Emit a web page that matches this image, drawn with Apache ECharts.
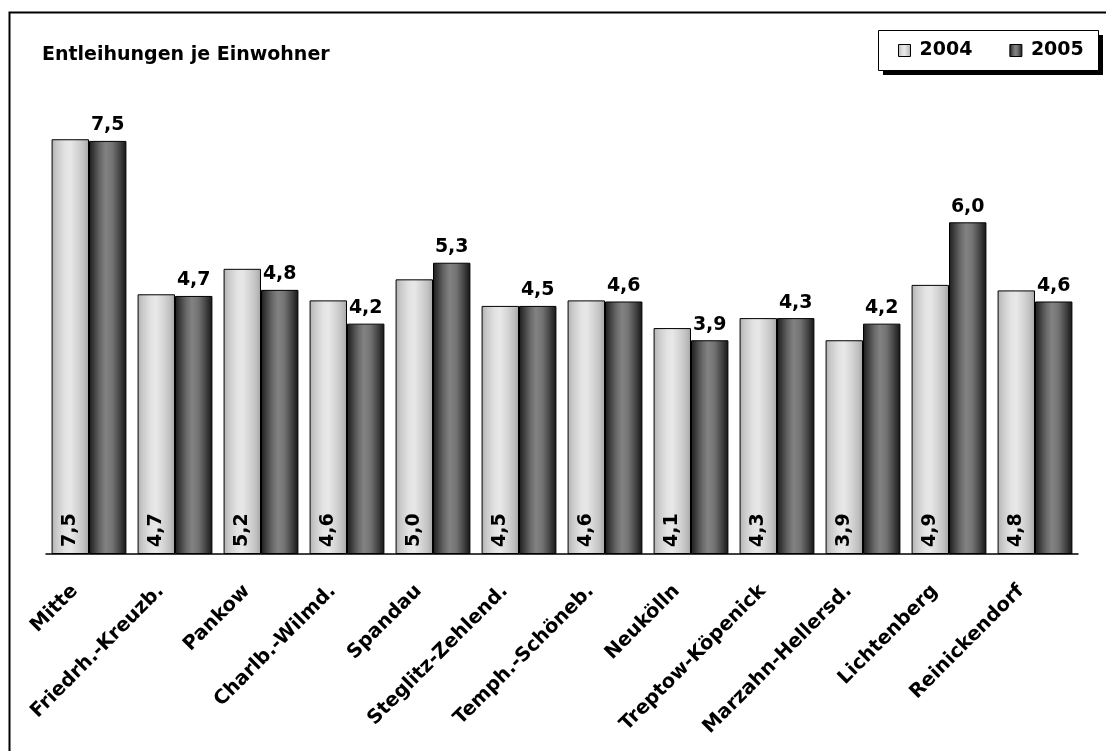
<!DOCTYPE html>
<html>
<head>
<meta charset="utf-8">
<script src="https://cdn.jsdelivr.net/npm/echarts@6/dist/echarts.min.js"></script>
<style>
html,body{margin:0;padding:0;background:#fff;}
#chart{width:1106px;height:751px;}
</style>
</head>
<body>
<div id="chart"></div>
<script>
const categories = ['Mitte','Friedrh.-Kreuzb.','Pankow','Charlb.-Wilmd.','Spandau','Steglitz-Zehlend.','Temph.-Schöneb.','Neukölln','Treptow-Köpenick','Marzahn-Hellersd.','Lichtenberg','Reinickendorf'];
const values2004 = [7.49, 4.69, 5.15, 4.58, 4.96, 4.48, 4.58, 4.08, 4.26, 3.86, 4.86, 4.76];
const values2005 = [7.46, 4.66, 4.77, 4.16, 5.26, 4.48, 4.56, 3.86, 4.26, 4.16, 5.99, 4.56];
const seriesNames = ['2004', '2005'];
const titleText = 'Entleihungen je Einwohner';

const FONT = 'DejaVu Sans';
const fmt = p => p.value.toFixed(1).replace('.', ',');

const grad2004 = new echarts.graphic.LinearGradient(0, 0, 1, 0, [
  {offset: 0, color: '#b2b2b2'},
  {offset: 0.15, color: '#cbcbcb'},
  {offset: 0.35, color: '#e2e2e2'},
  {offset: 0.5, color: '#e8e8e8'},
  {offset: 0.7, color: '#d4d4d4'},
  {offset: 0.87, color: '#c0c0c0'},
  {offset: 1, color: '#a4a4a4'}
]);
const grad2005 = new echarts.graphic.LinearGradient(0, 0, 1, 0, [
  {offset: 0, color: '#1c1c1c'},
  {offset: 0.12, color: '#3a3a3a'},
  {offset: 0.3, color: '#686868'},
  {offset: 0.45, color: '#828282'},
  {offset: 0.62, color: '#747474'},
  {offset: 0.8, color: '#4a4a4a'},
  {offset: 0.92, color: '#2a2a2a'},
  {offset: 1, color: '#141414'}
]);

const chart = echarts.init(document.getElementById('chart'), null, {renderer: 'canvas'});
chart.setOption({
  animation: false,
  backgroundColor: '#fff',
  textStyle: {fontFamily: FONT},
  graphic: [{
    type: 'rect',
    left: 7, top: 10,
    shape: {x: 0, y: 0, width: 1120, height: 800},
    style: {fill: 'none', stroke: '#000', lineWidth: 2},
    silent: true, z: -10
  }, {
    type: 'rect',
    left: 883, top: 35,
    shape: {x: 0, y: 0, width: 220, height: 40},
    style: {fill: '#000'},
    silent: true, z: -5
  }, {
    type: 'rect',
    left: 878, top: 30,
    shape: {x: 0, y: 0, width: 220, height: 40},
    style: {fill: '#fff', stroke: '#000', lineWidth: 1},
    silent: true, z: -4
  }],
  title: {
    text: titleText,
    left: 42, top: 46,
    padding: 0,
    textStyle: {fontFamily: FONT, fontWeight: 'bold', fontSize: 19, color: '#000'}
  },
  legend: {
    data: seriesNames,
    left: 898, top: 41,
    padding: 0,
    itemWidth: 12, itemHeight: 12,
    itemGap: 37,
    icon: 'rect',
    itemStyle: {borderColor: '#000', borderWidth: 1},
    textStyle: {fontFamily: FONT, fontWeight: 'bold', fontSize: 19, color: '#000', padding: [0, 0, 0, 4]},
    z: 10
  },
  grid: {left: 46, top: 111, width: 1032, height: 443, containLabel: false},
  xAxis: {
    type: 'category',
    data: categories,
    axisLine: {lineStyle: {color: '#000', width: 1.5}},
    axisTick: {show: false},
    axisLabel: {
      interval: 0,
      rotate: 45,
      margin: 20,
      padding: [0, 20, 0, 0],
      fontFamily: FONT, fontWeight: 'bold', fontSize: 19.5, color: '#000'
    }
  },
  yAxis: {
    type: 'value',
    min: 0, max: 8,
    show: false,
    splitLine: {show: false}
  },
  series: [{
    name: seriesNames[0],
    type: 'bar',
    data: values2004,
    barWidth: '43.5%',
    barGap: '0%',
    itemStyle: {color: grad2004, borderColor: '#000', borderWidth: 1},
    label: {
      show: true,
      position: 'insideBottom',
      rotate: 90,
      align: 'left',
      verticalAlign: 'middle',
      distance: 7,
      formatter: fmt,
      fontFamily: FONT, fontWeight: 'bold', fontSize: 19, color: '#000'
    }
  }, {
    name: seriesNames[1],
    type: 'bar',
    data: values2005,
    barWidth: '43.5%',
    barGap: '0%',
    itemStyle: {color: grad2005, borderColor: '#000', borderWidth: 1},
    label: {
      show: true,
      position: 'top',
      distance: 6,
      formatter: fmt,
      fontFamily: FONT, fontWeight: 'bold', fontSize: 19, color: '#000'
    }
  }]
});
</script>
</body>
</html>
